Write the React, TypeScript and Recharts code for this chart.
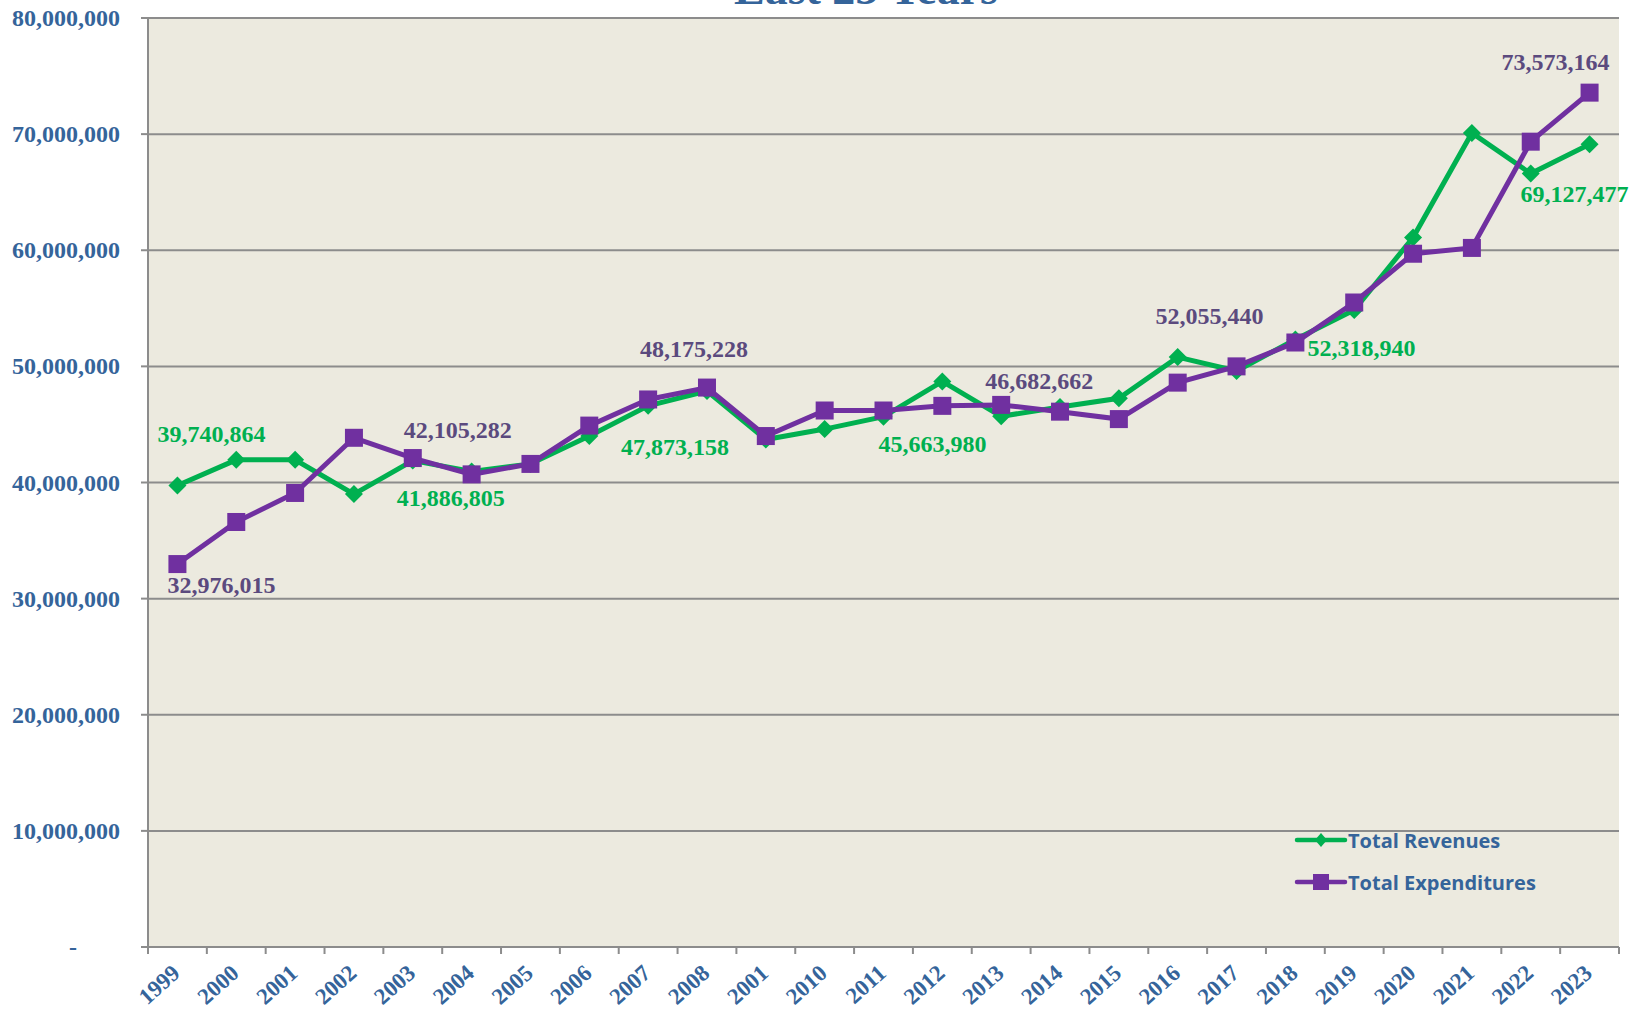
import { LineChart, Line, XAxis, YAxis, CartesianGrid, LabelList } from 'recharts';

// Fiscal years as printed on the axis (the sheet shows "2001" where 2009 belongs)
const years = ['1999', '2000', '2001', '2002', '2003', '2004', '2005', '2006', '2007', '2008', '2001', '2010', '2011', '2012', '2013', '2014', '2015', '2016', '2017', '2018', '2019', '2020', '2021', '2022', '2023'];

const revenues = [39740864, 41950000, 41950000, 39000000, 41886805, 40950000, 41600000, 44000000, 46600000, 47873158, 43700000, 44600000, 45663980, 48700000, 45700000, 46500000, 47250000, 50800000, 49600000, 52318940, 54850000, 61100000, 70100000, 66600000, 69127477];

const expenditures = [32976015, 36600000, 39100000, 43850000, 42105282, 40700000, 41600000, 44900000, 47150000, 48175228, 44000000, 46200000, 46200000, 46600000, 46682662, 46100000, 45460000, 48600000, 50000000, 52055440, 55500000, 59700000, 60200000, 69350000, 73573164];

const yTicks = [0, 10000000, 20000000, 30000000, 40000000, 50000000, 60000000, 70000000, 80000000];

const W = 1629;
const H = 1012;
const LEFT = 148;
const RIGHT = 10;
const TOP = 18;
const X_AXIS_H = 65;
const AXIS_Y = H - X_AXIS_H;
const BAND = (W - LEFT - RIGHT) / years.length;

const GREEN = '#00B050';
const PURPLE = '#7030A0';
const PURPLE_TEXT = '#5B4A7E';
const AXIS_TEXT = '#35649A';
const GRID = '#8C8C8C';
const SERIF = '"Liberation Serif", "Times New Roman", serif';

// where each visible data label sits relative to its point (dx, dy)
const revLabelOffsets: Record<number, [number, number]> = {
  0: [34, -52],
  4: [38, 37],
  9: [-32, 56],
  12: [49, 27],
  19: [66, 9],
  24: [-15, 50],
};
const expLabelOffsets: Record<number, [number, number]> = {
  0: [44, 21],
  4: [45, -28],
  9: [-13, -39],
  14: [38, -24],
  19: [-86, -27],
  24: [-34, -31],
};

const data = years.map((year, i) => ({
  year,
  rev: revenues[i],
  exp: expenditures[i],
}));

function fmt(v: number) {
  return Math.round(v).toLocaleString('en-US');
}

function makeLabel(offsets: Record<number, [number, number]>, color: string) {
  return (props: any) => {
    const off = offsets[props.index];
    if (!off || props.x == null) return null;
    return (
      <text
        x={props.x + off[0]}
        y={props.y + off[1]}
        dy={8}
        textAnchor="middle"
        fill={color}
        fontFamily={SERIF}
        fontWeight="bold"
        fontSize={24}
      >
        {fmt(Number(props.value))}
      </text>
    );
  };
}

function Diamond(props: any) {
  const { cx, cy } = props;
  if (cx == null || cy == null) return null;
  const r = 9;
  return <path d={`M${cx},${cy - r}L${cx + r},${cy}L${cx},${cy + r}L${cx - r},${cy}Z`} fill={GREEN} />;
}

function Square(props: any) {
  const { cx, cy } = props;
  if (cx == null || cy == null) return null;
  const s = 9;
  return <rect x={cx - s} y={cy - s} width={s * 2} height={s * 2} fill={PURPLE} />;
}

function YTick(props: any) {
  const { y, payload } = props;
  const v = payload.value as number;
  if (v === 0) {
    return (
      <text x={77} y={y} dy={8} textAnchor="end" fill={AXIS_TEXT} fontFamily={SERIF} fontWeight="bold" fontSize={24}>
        -
      </text>
    );
  }
  return (
    <text x={120} y={y} dy={8} textAnchor="end" fill={AXIS_TEXT} fontFamily={SERIF} fontWeight="bold" fontSize={24}>
      {fmt(v)}
    </text>
  );
}

function XTick(props: any) {
  const { x, payload, index } = props;
  const half = BAND / 2;
  const ax = x + 4;
  const ay = AXIS_Y + 28;
  return (
    <g>
      <line x1={x - half} x2={x - half} y1={AXIS_Y} y2={AXIS_Y + 7} stroke={GRID} strokeWidth={2} />
      {index === years.length - 1 && (
        <line x1={x + half} x2={x + half} y1={AXIS_Y} y2={AXIS_Y + 7} stroke={GRID} strokeWidth={2} />
      )}
      <text
        x={ax}
        y={ay}
        transform={`rotate(-42, ${ax}, ${ay})`}
        textAnchor="end"
        fill={AXIS_TEXT}
        fontFamily={SERIF}
        fontWeight="bold"
        fontSize={23}
      >
        {payload.value}
      </text>
    </g>
  );
}

function LegendBox() {
  const item = (label: string, color: string, marker: 'diamond' | 'square', top: number) => (
    <div style={{ position: 'absolute', left: 1294, top: top - 12, height: 24, display: 'flex', alignItems: 'center' }}>
      <svg width={54} height={24}>
        <line x1={3} x2={51} y1={12} y2={12} stroke={color} strokeWidth={4.5} strokeLinecap="round" />
        {marker === 'diamond' ? (
          <path d="M27,5L33,12L27,19L21,12Z" fill={color} />
        ) : (
          <rect x={19} y={4} width={16} height={16} fill={color} />
        )}
      </svg>
      <span style={{ fontFamily: '"Open Sans", "Noto Sans", sans-serif', fontWeight: 700, fontSize: 20, color: AXIS_TEXT, whiteSpace: 'nowrap' }}>
        {label}
      </span>
    </div>
  );
  return (
    <>
      {item('Total Revenues', GREEN, 'diamond', 840)}
      {item('Total Expenditures', PURPLE, 'square', 882)}
    </>
  );
}

export default function App() {
  return (
    <div style={{ position: 'fixed', left: 0, top: 0, width: W, height: H, background: '#fff', overflow: 'hidden' }}>
      <LineChart width={W} height={H} data={data} margin={{ top: TOP, right: RIGHT, left: 0, bottom: 0 }}>
        <CartesianGrid vertical={false} fill="#ECEADF" stroke={GRID} strokeWidth={2} />
        <XAxis
          dataKey="year"
          height={X_AXIS_H}
          interval={0}
          padding={{ left: BAND / 2, right: BAND / 2 }}
          tickLine={false}
          axisLine={{ stroke: GRID, strokeWidth: 2 }}
          tick={<XTick />}
        />
        <YAxis
          width={LEFT}
          domain={[0, 80000000]}
          ticks={yTicks}
          interval={0}
          tickSize={7}
          tickLine={{ stroke: GRID, strokeWidth: 2 }}
          axisLine={{ stroke: GRID, strokeWidth: 2 }}
          tick={<YTick />}
        />
        <Line
          dataKey="rev"
          name="Total Revenues"
          type="linear"
          stroke={GREEN}
          strokeWidth={5}
          dot={<Diamond />}
          activeDot={false}
          isAnimationActive={false}
        >
          <LabelList dataKey="rev" content={makeLabel(revLabelOffsets, GREEN)} />
        </Line>
        <Line
          dataKey="exp"
          name="Total Expenditures"
          type="linear"
          stroke={PURPLE}
          strokeWidth={5}
          dot={<Square />}
          activeDot={false}
          isAnimationActive={false}
        >
          <LabelList dataKey="exp" content={makeLabel(expLabelOffsets, PURPLE_TEXT)} />
        </Line>
      </LineChart>
      <svg width={W} height={20} style={{ position: 'absolute', left: 0, top: 0 }}>
        <text x={866} y={4} textAnchor="middle" fill={AXIS_TEXT} fontFamily={SERIF} fontWeight="bold" fontSize={46}>
          Last 25 Years
        </text>
      </svg>
      <LegendBox />
    </div>
  );
}
